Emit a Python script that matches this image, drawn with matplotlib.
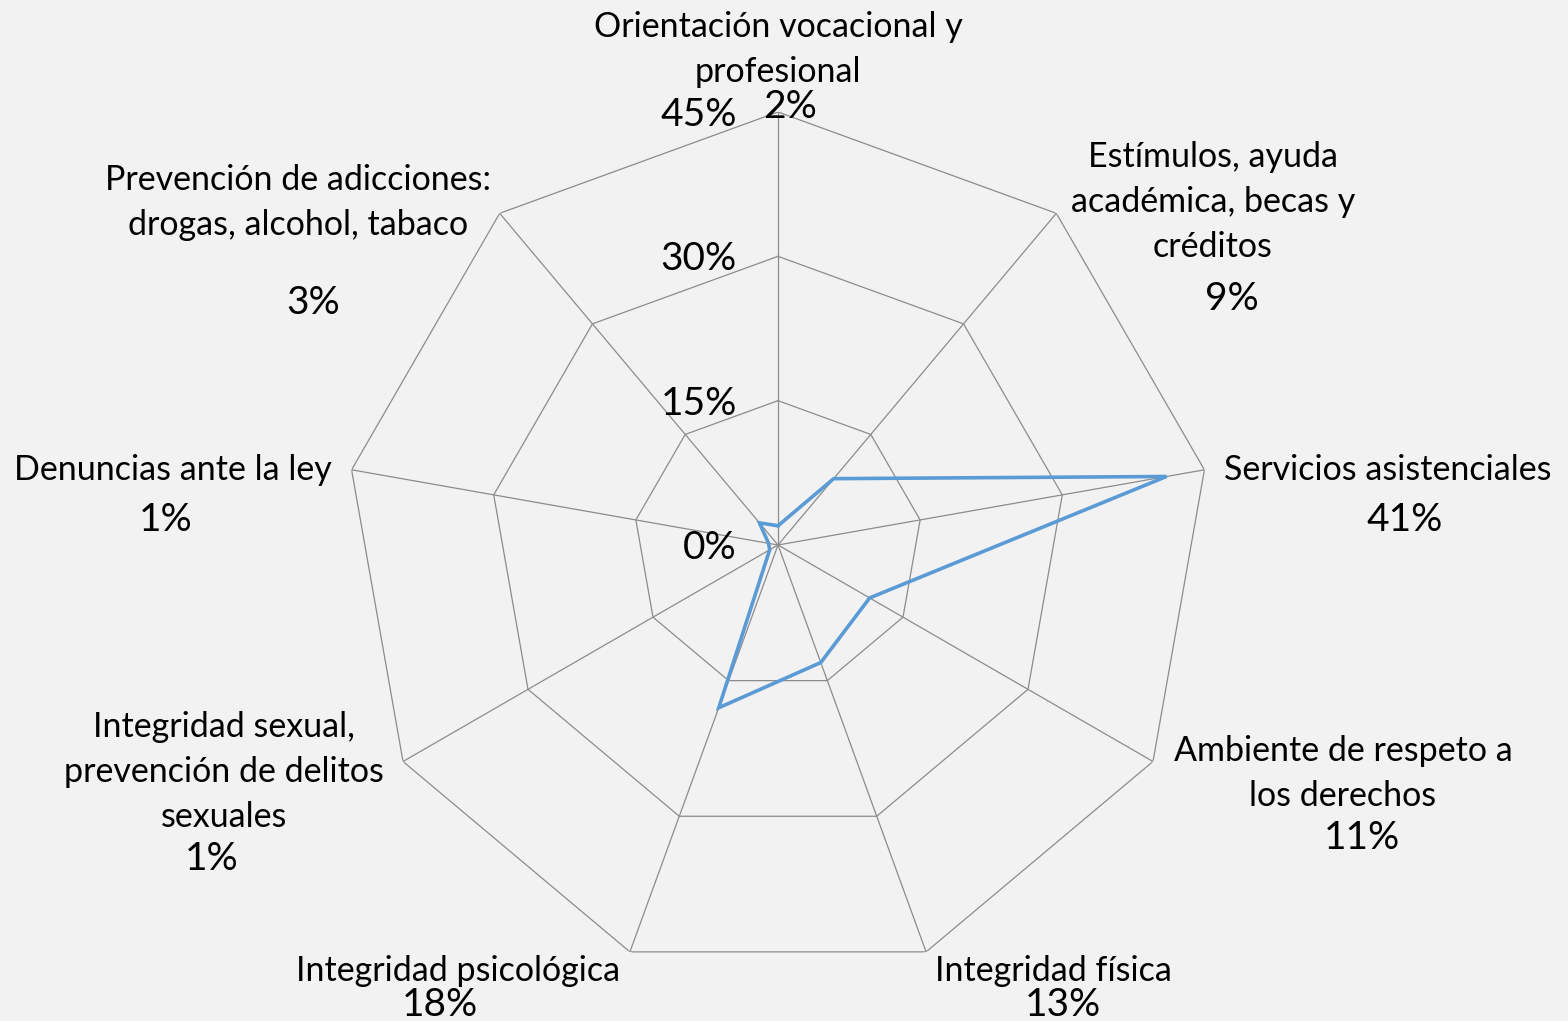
import numpy as np
import matplotlib
matplotlib.use("Agg")
import matplotlib.pyplot as plt

plt.rcParams['font.family'] = ['Lato', 'DejaVu Sans']

categories = [
    "Orientación vocacional y\nprofesional",
    "Estímulos, ayuda\nacadémica, becas y\ncréditos",
    "Servicios asistenciales",
    "Ambiente de respeto a\nlos derechos",
    "Integridad física",
    "Integridad psicológica",
    "Integridad sexual,\nprevención de delitos\nsexuales",
    "Denuncias ante la ley",
    "Prevención de adicciones:\ndrogas, alcohol, tabaco",
]
values = [2, 9, 41, 11, 13, 18, 1, 1, 3]
ticks = [0, 15, 30, 45]
tick_labels = ["0%", "15%", "30%", "45%"]

# label layout (pixel centres of name block lines and value label)
name_pos = [(778, 27), (1213, 157), (1388, 470), (1343, 751), (1053, 971),
            (458, 971), (224, 727), (173, 470), (298, 180)]
val_pos = [(790, 107), (1232, 299), (1405, 520), (1362, 838), (1063, 1005),
           (440, 1005), (212, 859), (166, 520), (313, 303)]
line_gap = 45

W, H = 1568, 1021
bg = '#F2F2F2'
fig = plt.figure(figsize=(W / 100, H / 100), dpi=100, facecolor=bg)

cx, cy, R = 778, 545, 433
ax = fig.add_axes([(cx - R) / W, (H - cy - R) / H, 2 * R / W, 2 * R / H],
                  projection='polar')
ax.set_facecolor(bg)
ax.patch.set_alpha(0)
ax.set_theta_offset(np.pi / 2)
ax.set_theta_direction(-1)
ax.set_ylim(0, 45)
ax.grid(False)
ax.spines['polar'].set_visible(False)
ax.set_xticks([])
ax.set_yticks([])

n = len(categories)
ang = np.arange(n) * 2 * np.pi / n
ang_c = np.append(ang, ang[0])

gcol = '#8C8C8C'
for t in ticks[1:]:
    ax.plot(ang_c, [t] * (n + 1), color=gcol, lw=0.9, zorder=1)
for a in ang:
    ax.plot([a, a], [0, ticks[-1]], color=gcol, lw=0.9, zorder=1)

vals_c = values + values[:1]
ax.plot(ang_c, vals_c, color='#5B9BD5', lw=2.6, zorder=3, solid_joinstyle='miter')

# radial tick labels
for t, lab in zip(ticks, tick_labels):
    py = cy - t * R / 45 + 3
    fig.text(737 / W, 1 - py / H, lab, ha='right', va='center', fontsize=28, color='#000000')

for name, (x, y), v, (vx, vy) in zip(categories, name_pos, values, val_pos):
    lines = name.split("\n")
    for i, ln in enumerate(lines):
        fig.text(x / W, 1 - (y + i * line_gap) / H, ln, ha='center', va='center',
                 fontsize=24.5, color='#000000')
    fig.text(vx / W, 1 - vy / H, f"{v}%", ha='center', va='center', fontsize=28,
             color='#000000')

fig.savefig('out.png', dpi=100, facecolor=bg)
